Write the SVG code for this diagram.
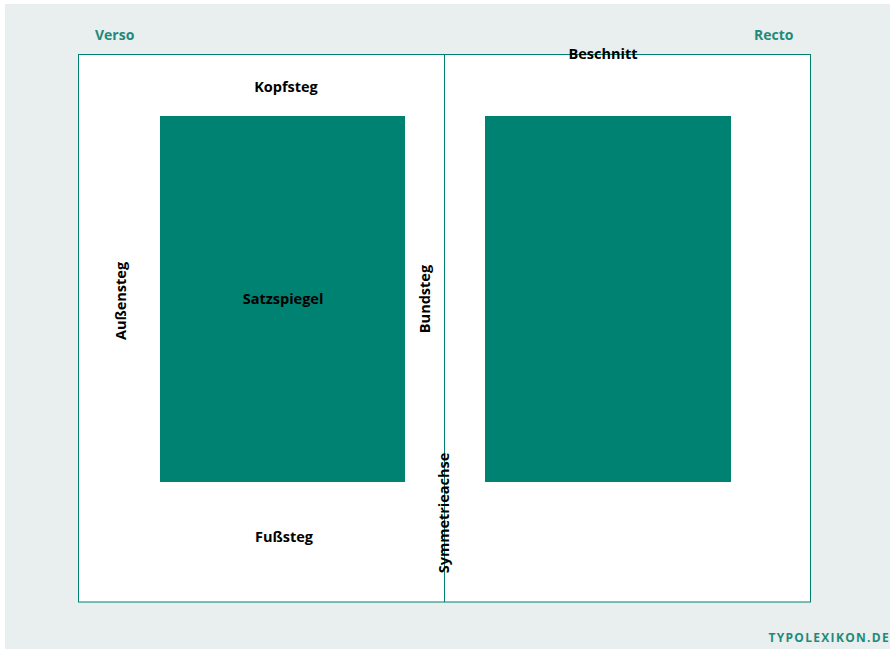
<svg xmlns="http://www.w3.org/2000/svg" width="890" height="649" viewBox="0 0 890 649">
  <style>
    .lbl { font-family: "Open Sans", "Liberation Sans", sans-serif; font-weight: 700; font-size: 14.5px; fill: #000; text-anchor: middle; dominant-baseline: central; }
    .side { font-family: "Open Sans", "Liberation Sans", sans-serif; font-weight: 700; font-size: 14px; fill: #1f8a7a; }
    .page { fill: #fff; stroke: #00806f; stroke-width: 1; }
    .block { fill: #008272; }
  </style>
  <rect x="0" y="0" width="890" height="649" fill="#fff"/>
  <rect x="5" y="4" width="885" height="645" fill="#e9eeee"/>

  <g id="spread">
    <rect class="page" x="78.5" y="54.5" width="732" height="547.5"/>
  </g>
  <g id="connectors">
    <line x1="444.5" y1="54.5" x2="444.5" y2="602" stroke="#00806f" stroke-width="1"/>
  </g>
  <g id="verso-block"><rect class="block" x="160" y="116" width="245" height="366"/></g>
  <g id="recto-block"><rect class="block" x="485" y="116" width="246" height="366"/></g>

  <g id="verso-label"><text class="side" x="95" y="40">Verso</text></g>
  <g id="recto-label"><text class="side" x="754" y="40">Recto</text></g>

  <g id="kopfsteg"><text class="lbl" x="286" y="86">Kopfsteg</text></g>
  <g id="satzspiegel"><text class="lbl" x="283" y="298">Satzspiegel</text></g>
  <g id="fusssteg"><text class="lbl" x="284" y="536">Fußsteg</text></g>
  <g id="beschnitt"><text class="lbl" x="603" y="53">Beschnitt</text></g>
  <g id="aussensteg"><text class="lbl" transform="translate(120 301) rotate(-90)">Außensteg</text></g>
  <g id="bundsteg"><text class="lbl" transform="translate(424 299) rotate(-90)">Bundsteg</text></g>
  <g id="symmetrieachse"><text class="lbl" transform="translate(443 513) rotate(-90)">Symmetrieachse</text></g>

  <g id="credit"><text x="890" y="642" text-anchor="end" font-family="'Open Sans', 'Liberation Sans', sans-serif" font-weight="700" font-size="12" letter-spacing="1.3" fill="#1f8a7a">TYPOLEXIKON.DE</text></g>
</svg>
